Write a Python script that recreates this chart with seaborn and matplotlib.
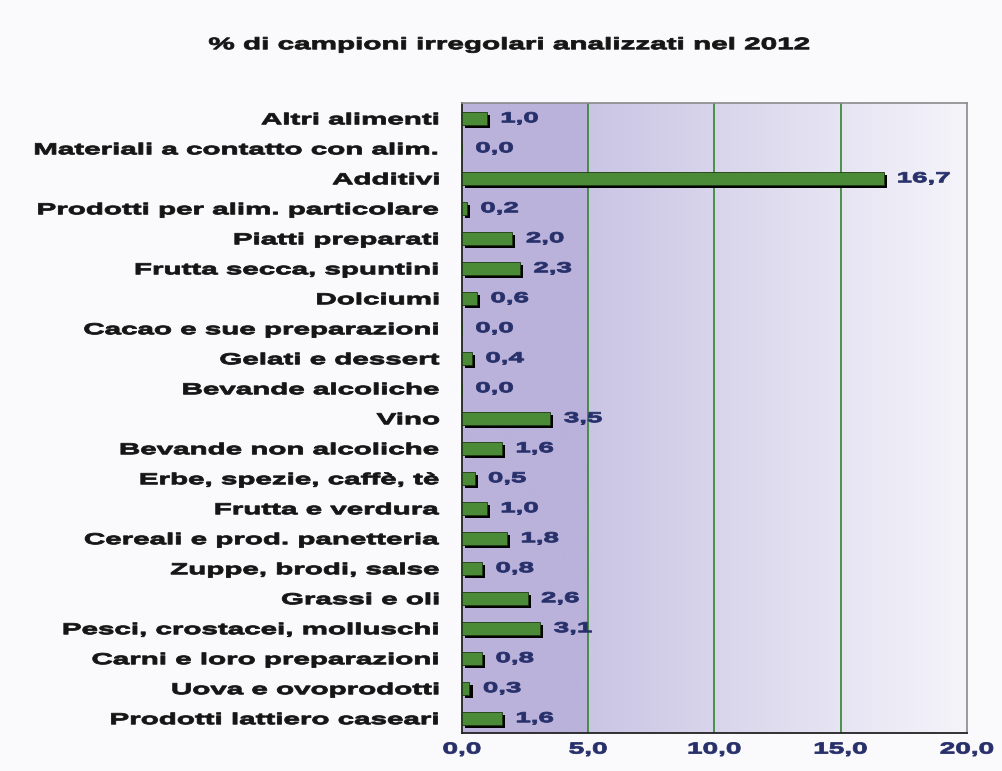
import matplotlib
matplotlib.use("Agg")
import matplotlib.pyplot as plt
import matplotlib.patheffects as pe
from matplotlib.transforms import Affine2D
from matplotlib.colors import to_rgb
import seaborn as sns
import numpy as np
import pandas as pd

# dati
categorie = [
    "Altri alimenti",
    "Materiali a contatto con alim.",
    "Additivi",
    "Prodotti per alim. particolare",
    "Piatti preparati",
    "Frutta secca, spuntini",
    "Dolciumi",
    "Cacao e sue preparazioni",
    "Gelati e dessert",
    "Bevande alcoliche",
    "Vino",
    "Bevande non alcoliche",
    "Erbe, spezie, caffè, tè",
    "Frutta e verdura",
    "Cereali e prod. panetteria",
    "Zuppe, brodi, salse",
    "Grassi e oli",
    "Pesci, crostacei, molluschi",
    "Carni e loro preparazioni",
    "Uova e ovoprodotti",
    "Prodotti lattiero caseari",
]
percentuali = [1.0, 0.0, 16.7, 0.2, 2.0, 2.3, 0.6, 0.0, 0.4, 0.0, 3.5,
               1.6, 0.5, 1.0, 1.8, 0.8, 2.6, 3.1, 0.8, 0.3, 1.6]
x_ticks = [0, 5, 10, 15, 20]
titolo = "% di campioni irregolari analizzati nel 2012"


class Stretch(pe.AbstractPathEffect):
    """allarga il testo in orizzontale (il font dell'originale e' molto largo)"""
    def __init__(self, sx, anchor="left", lw=0.6):
        super().__init__()
        self.sx = sx
        self.anchor = anchor
        self.lw = lw

    def draw_path(self, renderer, gc, tpath, affine, rgbFace=None):
        p = affine.transform_path(tpath)
        ext = p.get_extents()
        if self.anchor == "right":
            x0 = ext.x1
        elif self.anchor == "center":
            x0 = (ext.x0 + ext.x1) / 2
        else:
            x0 = ext.x0
        t = Affine2D().translate(-x0, 0).scale(self.sx, 1).translate(x0, 0)
        gc0 = renderer.new_gc()
        gc0.copy_properties(gc)
        gc0.set_foreground(rgbFace)
        gc0.set_linewidth(self.lw)
        renderer.draw_path(gc0, t.transform_path(p), Affine2D(), rgbFace)
        gc0.restore()


def virgola(v):
    return f"{v:.1f}".replace(".", ",")


df = pd.DataFrame({"categoria": categorie, "valore": percentuali})

sns.set_style("white")
plt.rcParams["font.family"] = ["Liberation Sans", "DejaVu Sans"]

fig = plt.figure(figsize=(10.02, 7.71), dpi=100)
fig.patch.set_facecolor("#fafafc")
ax = fig.add_axes([0.461, 0.049, 0.504, 0.817])

# sfondo sfumato viola -> bianco
n = 400
xs = np.linspace(0, 20, n)
c_dark = np.array(to_rgb("#bab2da"))
c_mid = np.array(to_rgb("#cac5e4"))
c_light = np.array(to_rgb("#f5f4fa"))
grad = np.zeros((1, n, 3))
for i, xv in enumerate(xs):
    if xv < 5:
        grad[0, i] = c_dark
    else:
        t = (xv - 5) / 15
        grad[0, i] = c_mid * (1 - t) + c_light * t
ax.imshow(grad, extent=[0, 20, 20.5, -0.5], aspect="auto", zorder=0)

sns.barplot(data=df, y="categoria", x="valore", orient="h", ax=ax,
            color="#4b8a36", width=0.42, saturation=1, zorder=3)
for bar in ax.patches:
    bar.set_edgecolor("#1d3a12")
    bar.set_linewidth(0.6)
    bar.set_path_effects([pe.SimplePatchShadow(offset=(2.2, -2.2), shadow_rgbFace="black", alpha=1),
                          pe.Normal()])

for i, v in enumerate(percentuali):
    ax.annotate(virgola(v), (v, i), xytext=(10, 0),
                textcoords="offset points", va="center", ha="left",
                fontsize=10.5, fontweight="bold", color="#27306a", zorder=5,
                path_effects=[Stretch(1.9, "left")])

for xv in [5, 10, 15]:
    ax.axvline(xv, color="#3f8a3a", lw=1.3, zorder=1)

ax.set_xlim(0, 20)
ax.set_ylim(20.5, -0.5)
ax.set_xticks(x_ticks)
ax.set_xticklabels([virgola(t) for t in x_ticks],
                   fontsize=11.5, fontweight="bold", color="#27306a")
ax.set_yticks(range(len(categorie)))
ax.set_yticklabels(categorie, fontsize=11.5, fontweight="bold", color="#151515")
ax.set_yticks(np.arange(-0.5, 20.6, 1), minor=True)
ax.tick_params(axis="y", which="major", length=0, pad=16)
ax.tick_params(axis="y", which="minor", length=6, width=1.2, color="#222222", direction="out")
ax.tick_params(axis="x", length=5, width=1.2, color="#222222", direction="out", pad=1)
ax.set_xlabel("")
ax.set_ylabel("")

for lab in ax.get_yticklabels():
    lab.set_path_effects([Stretch(1.85, "right")])
for lab in ax.get_xticklabels():
    lab.set_path_effects([Stretch(1.75, "center")])

for s in ["left", "bottom"]:
    ax.spines[s].set_color("#222222")
    ax.spines[s].set_linewidth(1.3)
for s in ["top", "right"]:
    ax.spines[s].set_color("#8a8a8a")
    ax.spines[s].set_linewidth(1.2)

fig.text(0.507, 0.942, titolo, ha="center", va="center", fontsize=12,
         fontweight="bold", color="#151515", path_effects=[Stretch(1.78, "center")])

fig.savefig("out.png", dpi=100)
